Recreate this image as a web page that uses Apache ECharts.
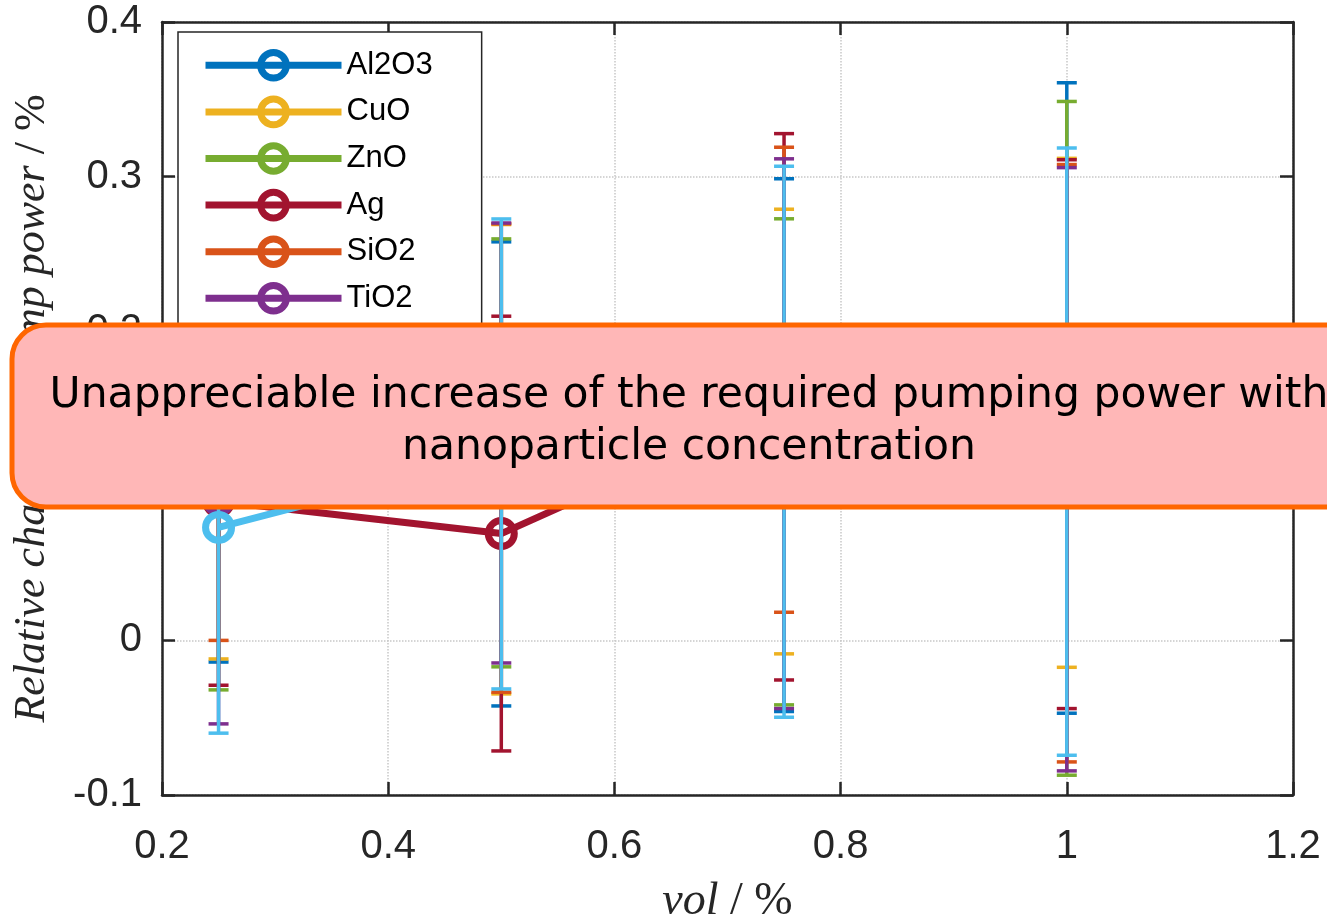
<!DOCTYPE html>
<html>
<head>
<meta charset="utf-8">
<script src="https://cdn.jsdelivr.net/npm/echarts@6/dist/echarts.min.js"></script>
<style>
html,body{margin:0;padding:0;background:#fff;}
#chart{width:1327px;height:917px;}
</style>
</head>
<body>
<div id="chart"></div>
<script>
// ---- data ----
const volFractions = [0.25, 0.5, 0.75, 1.0];
const materials = ['Al2O3', 'CuO', 'ZnO', 'Ag', 'SiO2', 'TiO2', 'MgO'];
const al2o3Mean = [0.100, 0.1077, 0.1263, 0.1568];
const al2o3Err  = [0.114, 0.1501, 0.1723, 0.2039];
const cuoMean   = [0.105, 0.1172, 0.1351, 0.1472];
const cuoErr    = [0.117, 0.1518, 0.1438, 0.1646];
const znoMean   = [0.100, 0.1213, 0.1155, 0.1307];
const znoErr    = [0.132, 0.1384, 0.1572, 0.2179];
const agMean    = [0.090, 0.0691, 0.1511, 0.1334];
const agErr     = [0.119, 0.1406, 0.1767, 0.1775];
const sio2Mean  = [0.110, 0.1180, 0.1686, 0.1146];
const sio2Err   = [0.110, 0.1515, 0.1504, 0.1932];
const tio2Mean  = [0.091, 0.1277, 0.1337, 0.1107];
const tio2Err   = [0.145, 0.1423, 0.1778, 0.1951];
const mgoMean   = [0.0731, 0.1206, 0.1285, 0.1221];
const mgoErr    = [0.1331, 0.1520, 0.1782, 0.1964];
const xTickLabels = ['0.2', '0.4', '0.6', '0.8', '1', '1.2'];
const yTickLabels = ['-0.1', '0', '0.1', '0.2', '0.3', '0.4'];
const calloutLines = ['Unappreciable increase of the required pumping power with', 'nanoparticle concentration'];

// ---- styles ----
const colors = ['#0072BD', '#EDB120', '#77AC30', '#A2142F', '#D95319', '#7E2F8E', '#4DBEEE'];
const means = [al2o3Mean, cuoMean, znoMean, agMean, sio2Mean, tio2Mean, mgoMean];
const errs = [al2o3Err, cuoErr, znoErr, agErr, sio2Err, tio2Err, mgoErr];
const axisColor = '#262626';

const series = [];
materials.forEach(function (name, i) {
  const c = colors[i];
  series.push({
    name: name + ' error',
    type: 'custom',
    xAxisIndex: 0, yAxisIndex: 0,
    dimensions: ['x', 'lo', 'hi'],
    encode: { x: 0, y: [1, 2] },
    data: volFractions.map(function (x, j) { return [x, means[i][j] - errs[i][j], means[i][j] + errs[i][j]]; }),
    z: 3 + 2 * i,
    renderItem: function (params, api) {
      const x = api.value(0);
      const lo = api.coord([x, api.value(1)]);
      const hi = api.coord([x, api.value(2)]);
      const hw = 10;
      const st = { stroke: c, lineWidth: 3.5 };
      return {
        type: 'group',
        children: [
          { type: 'line', shape: { x1: lo[0], y1: lo[1], x2: hi[0], y2: hi[1] }, style: st },
          { type: 'line', shape: { x1: lo[0] - hw, y1: lo[1], x2: lo[0] + hw, y2: lo[1] }, style: st },
          { type: 'line', shape: { x1: hi[0] - hw, y1: hi[1], x2: hi[0] + hw, y2: hi[1] }, style: st }
        ]
      };
    }
  });
  series.push({
    name: name,
    type: 'line',
    xAxisIndex: 0, yAxisIndex: 0,
    data: volFractions.map(function (x, j) { return [x, means[i][j]]; }),
    symbol: 'circle',
    symbolSize: 26,
    lineStyle: { color: c, width: 7 },
    itemStyle: { color: 'rgba(255,255,255,0)', borderColor: c, borderWidth: 7 },
    z: 4 + 2 * i
  });
});

const chart = echarts.init(document.getElementById('chart'), null, { renderer: 'canvas' });
const tickStyle = { show: true, inside: true, length: 13, lineStyle: { color: axisColor, width: 2.5 } };
const lineSt = { show: true, onZero: false, lineStyle: { color: axisColor, width: 2.5 } };
const gridLine = { show: true, lineStyle: { color: '#c8c8c8', width: 1.5, type: 'dotted' } };

chart.setOption({
  animation: false,
  backgroundColor: '#fff',
  grid: { left: 162, right: 34, top: 22, bottom: 122, containLabel: false, outerBoundsMode: 'none' },
  xAxis: [{
    type: 'value', position: 'bottom', min: 0.2, max: 1.2, interval: 0.2,
    axisLine: lineSt, axisTick: tickStyle, splitLine: gridLine,
    axisLabel: {
      color: axisColor, fontSize: 40, fontFamily: 'Liberation Sans', margin: 32,
      formatter: function (v, idx) { return xTickLabels[idx]; }
    },
    name: '{i|vol}{r| / %}', nameLocation: 'middle', nameGap: 84,
    nameTextStyle: {
      color: axisColor,
      rich: {
        i: { fontFamily: 'Liberation Serif', fontStyle: 'italic', fontSize: 46, color: axisColor },
        r: { fontFamily: 'Liberation Serif', fontSize: 46, color: axisColor }
      }
    }
  }, {
    type: 'value', position: 'top', min: 0.2, max: 1.2, interval: 0.2,
    axisLine: lineSt, axisTick: tickStyle, axisLabel: { show: false }, splitLine: { show: false }
  }],
  yAxis: [{
    type: 'value', position: 'left', min: -0.1, max: 0.4, interval: 0.1,
    axisLine: lineSt, axisTick: tickStyle, splitLine: gridLine,
    axisLabel: {
      color: axisColor, fontSize: 40, fontFamily: 'Liberation Sans', margin: 20,
      formatter: function (v, idx) { return yTickLabels[idx]; }
    },
    name: '{i|Relative change in pump power}{r| / %}', nameLocation: 'middle', nameGap: 108, nameRotate: 90,
    nameTextStyle: {
      color: axisColor,
      rich: {
        i: { fontFamily: 'Liberation Serif', fontStyle: 'italic', fontSize: 44, color: axisColor },
        r: { fontFamily: 'Liberation Serif', fontSize: 44, color: axisColor }
      }
    }
  }, {
    type: 'value', position: 'right', min: -0.1, max: 0.4, interval: 0.1,
    axisLine: lineSt, axisTick: tickStyle, axisLabel: { show: false }, splitLine: { show: false }
  }],
  legend: {
    orient: 'vertical', left: 178, top: 32,
    padding: [17, 49, 12, 24],
    itemWidth: 136, itemHeight: 32, itemGap: 14,
    backgroundColor: '#fff', borderColor: axisColor, borderWidth: 1.5,
    selectedMode: false, z: 50,
    textStyle: { color: '#000', fontSize: 31, fontFamily: 'Liberation Sans' },
    data: materials.map(function (n, i) {
      return {
        name: n,
        itemStyle: { color: 'rgba(255,255,255,0)', borderColor: colors[i], borderWidth: 7 },
        lineStyle: { color: colors[i], width: 7 }
      };
    })
  },
  graphic: [{
    type: 'rect', z: 100,
    shape: { x: 12, y: 325, width: 1353, height: 182, r: 34 },
    style: { fill: '#FFB7B7', stroke: '#FF6600', lineWidth: 5 }
  }, {
    type: 'text', z: 101, x: 689, y: 422,
    style: {
      text: calloutLines.join('\n'),
      fill: '#000', font: '42.5px "DejaVu Sans"', lineHeight: 52,
      align: 'center', verticalAlign: 'middle', textAlign: 'center', textVerticalAlign: 'middle'
    }
  }],
  series: series
});
</script>
</body>
</html>
